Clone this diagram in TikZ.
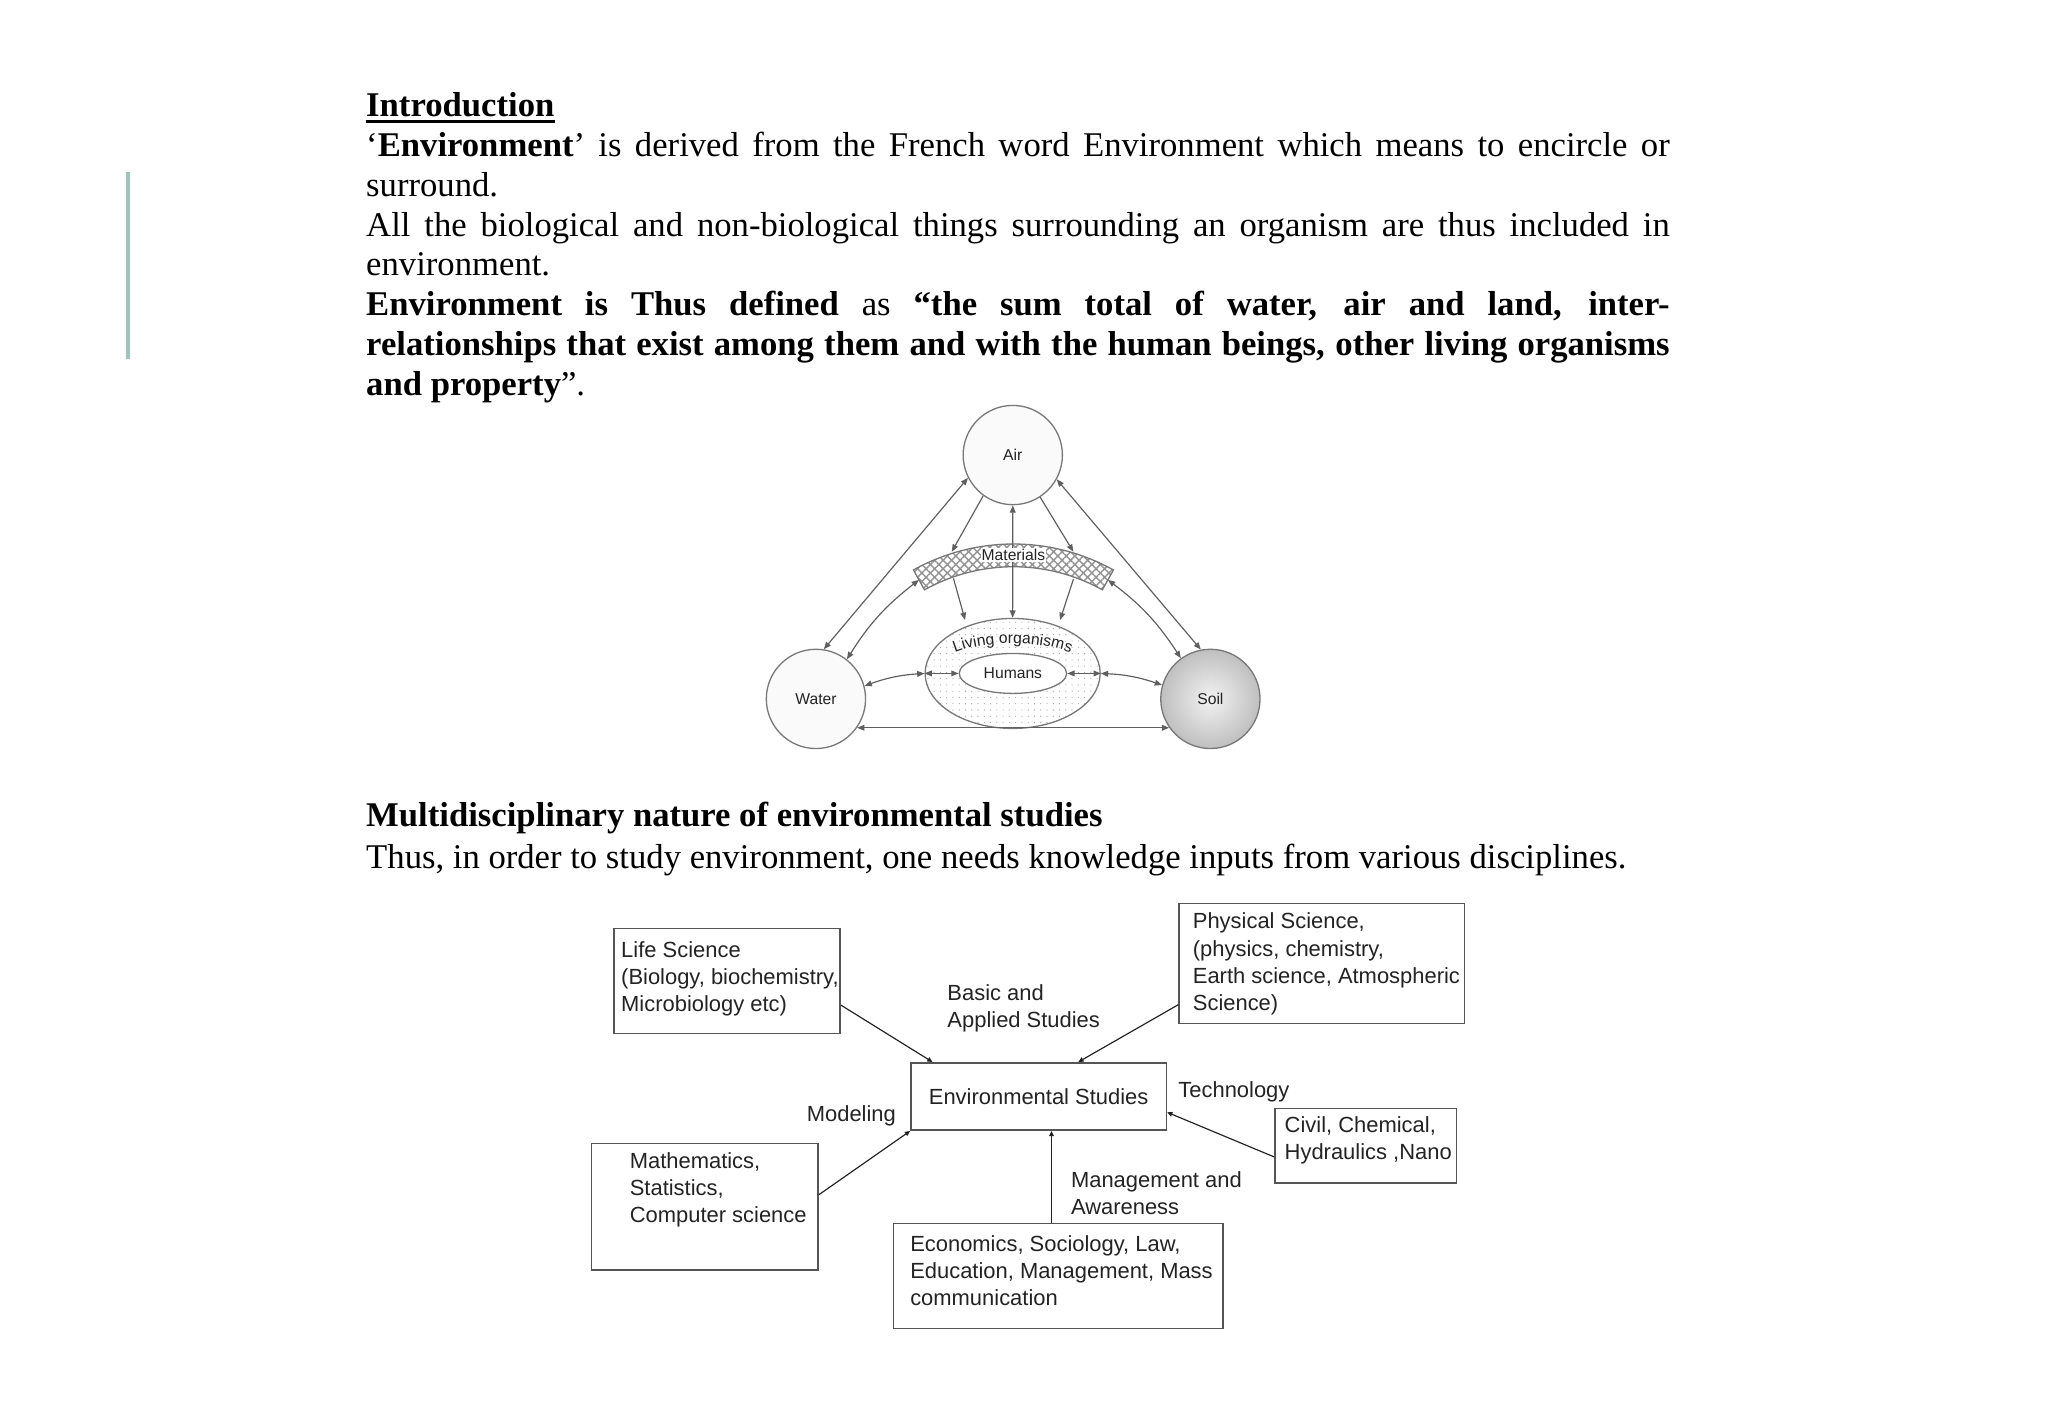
\documentclass[tikz,border=0pt]{standalone}
\usepackage{fontspec}
\setmainfont{Liberation Serif}
\newfontfamily\arialfont{Liberation Sans}
\usetikzlibrary{arrows.meta,shapes.geometric,patterns.meta,decorations.text,calc}

\definecolor{bargreen}{RGB}{158,196,188}
\definecolor{linegray}{RGB}{95,95,95}
\definecolor{rimgray}{RGB}{120,120,120}
\definecolor{boxgray}{RGB}{85,85,85}
\definecolor{inkgray}{RGB}{35,35,35}

\newcommand{\bodyfont}{\fontsize{13.27}{15.3}\selectfont}
\newcommand{\trifont}{\arialfont\fontsize{6}{7}\selectfont}
\newcommand{\boxfont}{\arialfont\fontsize{8.4}{10.4}\selectfont}

\begin{document}
\begin{tikzpicture}[x=0.5pt,y=-0.5pt,
    sphere/.style={circle, draw=rimgray, line width=0.5pt, minimum size=38pt, inner sep=0pt, font=\trifont, text=inkgray},
    link/.style={draw=linegray, line width=0.45pt, >={Triangle[length=2.8pt,width=2.2pt]}},
    box/.style={draw=boxgray, line width=0.6pt, inner sep=0pt},
    boxtext/.style={anchor=west, align=left, inner sep=0pt, font=\boxfont, text=inkgray},
    feed/.style={draw=inkgray, line width=0.45pt, -{Triangle[length=2pt,width=1.8pt]}}]

    \fill[white] (0,0) rectangle (1568,1086);
    \useasboundingbox (0,0) rectangle (1568,1086);

    % margin bar
    \draw[bargreen, line width=1.5pt] (98,131.5) -- (98,275);

    % introduction text
    \node[anchor=base west, inner sep=0pt, font=\bodyfont\bfseries] (introhead) at (280,89) {Introduction};
    \draw[line width=1pt] ([yshift=-2pt]introhead.base west) -- ([yshift=-2pt]introhead.base east);

    \node[anchor=base west, inner sep=0pt, text width=499pt, align=justify, font=\bodyfont] (intro) at (280,119.5) {%
        \hyphenpenalty=10000
        ‘\textbf{Environment}’ is derived from the French word Environment which means to encircle or\linebreak
        surround.\\
        All the biological and non-biological things surrounding an organism are thus included in\linebreak
        environment.\\
        \textbf{Environment is Thus defined} as \textbf{“the sum total of water, air and land, inter-\linebreak
        relationships that exist among them and with the human beings, other living organisms\linebreak
        and property}”.};

    % triangle: air, water, soil
    \node[sphere, fill=gray!4] (air) at (775.4,348.4) {Air};
    \node[sphere, fill=gray!4] (water) at (624.7,535.1) {Water};
    \node[sphere, shading=radial, inner color=gray!10, outer color=gray!50] (soil) at (926.7,535.1) {Soil};

    % materials band
    \coordinate (matc) at (775.9,573.9);
    \draw[draw=rimgray, line width=0.5pt, pattern={Hatch[angle=45,distance=2.3pt,line width=0.55pt]}, pattern color=gray!85]
        ($(matc)+(-119.1:157.4)$) arc[start angle=-119.1, end angle=-60.9, radius=157.4]
        -- ($(matc)+(-60.9:140)$) arc[start angle=-60.9, end angle=-119.1, radius=140] -- cycle;
    \coordinate (mattl) at (728.7,422.4);
    \coordinate (mattr) at (821.8,422.4);
    \coordinate (matbl) at (730,442.8);
    \coordinate (matbr) at (821.8,443.5);
    \coordinate (matl) at ($(matc)+(-119.1:148.7)$);
    \coordinate (matr) at ($(matc)+(-60.9:148.7)$);

    % living organisms and humans
    \node[ellipse, draw=rimgray, line width=0.5pt, minimum width=67pt, minimum height=42.1pt, inner sep=0pt,
        pattern={Dots[radius=0.22pt,distance=2.4pt]}, pattern color=gray!75] (org) at (775.3,515.6) {};
    \node[ellipse, draw=rimgray, line width=0.5pt, fill=white, minimum width=41.1pt, minimum height=15.3pt, inner sep=0pt,
        font=\trifont, text=inkgray] (humans) at (775.5,515.6) {Humans};
    \path[decorate, decoration={text along path, text align=center, text color=inkgray, text={|\trifont|Living organisms}}]
        ($(org.center)+(-170:61 and 23)$) arc[start angle=-170, end angle=-10, x radius=61, y radius=23];
    \coordinate (orgtl) at (738.9,474.7);
    \coordinate (orgtr) at (811.6,474.7);

    % exchanges
    \draw[link,<->] (air.207.6) -- (water.81.6);
    \draw[link,<->] (air.331.3) -- (soil.101);
    \draw[link,<->] (water.325.2) -- (soil.215.1);
    \draw[link,->] (air.234.5) -- (mattl);
    \draw[link,->] (air.303.8) -- (mattr);
    \draw[link,<->] (air.south) -- (org.north);
    \draw[link,->] (matbl) -- (orgtl);
    \draw[link,->] (matbr) -- (orgtr);
    \draw[link,<->] (matl) to[bend right=10] (water.52.7);
    \draw[link,<->] (matr) to[bend left=10] (soil.126);
    \draw[link,<->] (water.15.7) to[bend left=8] (org.west);
    \draw[link,<->] (org.east) to[bend left=8] (soil.164.4);
    \draw[link,<->] (org.west) -- (humans.west);
    \draw[link,<->] (org.east) -- (humans.east);

    \node[font=\trifont, text=inkgray, fill=white, inner sep=0.4pt] (mat) at (775.9,425) {Materials};

    % second heading
    \node[anchor=base west, inner sep=0pt, font=\bodyfont\bfseries] (multihead) at (280,633) {Multidisciplinary nature of environmental studies};
    \node[anchor=base west, inner sep=0pt, font=\bodyfont] (thusline) at (280,665) {Thus, in order to study environment, one needs knowledge inputs from various disciplines.};

    % disciplines
    \node[box, minimum width=86.65pt, minimum height=40.2pt] (life) at (556.6,751) {};
    \node[boxtext] (lifetext) at (475.2,749.5) {Life Science\\(Biology, biochemistry,\\Microbiology etc)};

    \node[box, minimum width=109.3pt, minimum height=45.95pt] (phys) at (1012.1,737.65) {};
    \node[boxtext] (physext) at (912.9,738) {Physical Science,\\(physics, chemistry,\\Earth science, Atmospheric\\Science)};

    \node[box, minimum width=97.8pt, minimum height=25.8pt, font=\boxfont, text=inkgray] (env) at (795.2,839.5) {Environmental Studies};

    \node[box, minimum width=69.6pt, minimum height=28.5pt] (civil) at (1045.6,877.1) {};
    \node[boxtext] (civiltext) at (983.2,873) {Civil, Chemical,\\Hydraulics ,Nano};

    \node[box, minimum width=86.65pt, minimum height=48.5pt] (math) at (539.65,923.9) {};
    \node[boxtext] (mathtext) at (481.8,911) {Mathematics,\\Statistics,\\Computer science};

    \node[box, minimum width=126.25pt, minimum height=40.2pt] (econ) at (810.25,976.9) {};
    \node[boxtext] (econtext) at (696.5,973) {Economics, Sociology, Law,\\Education, Management, Mass\\communication};

    % labels on the links
    \node[boxtext] (basictext) at (725,772.3) {Basic and\\Applied Studies};
    \node[boxtext] (techtext) at (901.8,836) {Technology};
    \node[boxtext, anchor=east] (modeltext) at (686.3,854) {Modeling};
    \node[boxtext] (mgmttext) at (819.6,913.5) {Management and\\Awareness};

    \coordinate (econtop) at ([xshift=-2.6pt]econ.north);
    \draw[feed] (life.-12.9) -- (env.162.3);
    \draw[feed] (phys.196.4) -- (env.41.9);
    \draw[feed] (math.6.7) -- (env.south west);
    \draw[feed] (econtop) -- (econtop |- env.south);
    \draw[feed] (civil.187) -- (env.-7.4);

\end{tikzpicture}
\end{document}
